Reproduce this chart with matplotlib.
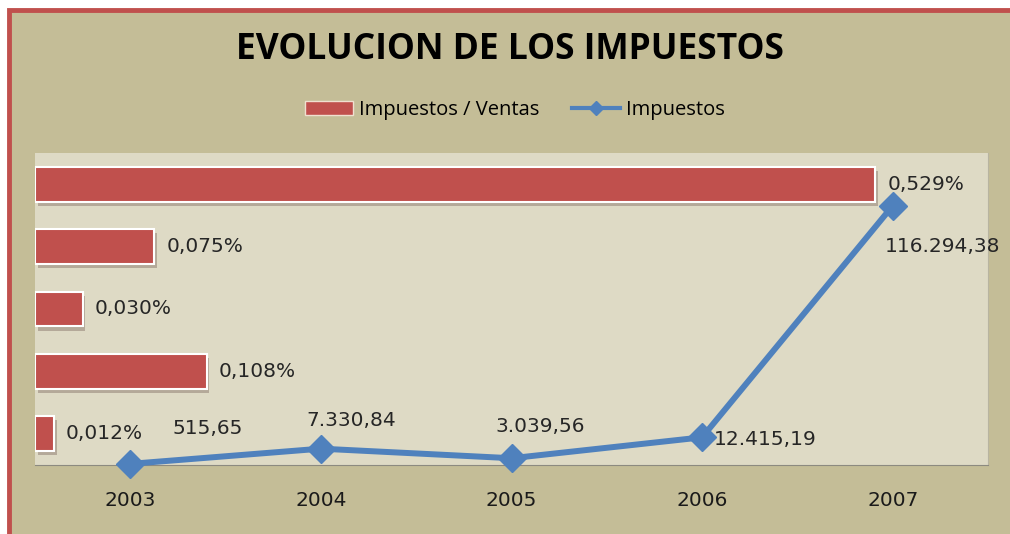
import numpy as np
import matplotlib.pyplot as plt
from matplotlib.patches import Rectangle, Patch
from matplotlib.lines import Line2D
import matplotlib.patheffects as pe

plt.rcParams['font.family'] = ['Open Sans', 'DejaVu Sans']

years = ['2003', '2004', '2005', '2006', '2007']
ratio = [0.012, 0.108, 0.030, 0.075, 0.529]          # Impuestos / Ventas (%)
impuestos = [515.65, 7330.84, 3039.56, 12415.19, 116294.38]

red = '#c0504d'
blue = '#4f81bd'
tan = '#c4bd97'
W, H = 1010, 534
lbl = dict(fontsize=14.5, color='#262626', family='DejaVu Sans')


def eur(v, dec=2):
    s = f'{v:,.{dec}f}'
    return s.replace(',', 'X').replace('.', ',').replace('X', '.')


fig = plt.figure(figsize=(W / 100, H / 100), dpi=100, facecolor='white')
# fondo del grafico con borde rojo
fig.patches.append(Rectangle((9 / W, -0.1), 1.2, 1 - 9.5 / H + 0.1,
                             transform=fig.transFigure, facecolor=tan,
                             edgecolor=red, linewidth=3.5, zorder=-5))

pos = [35 / W, (H - 465) / H, 953 / W, 312 / H]
ax = fig.add_axes(pos)
ax.set_facecolor('#dedac5')
y = np.arange(len(years))
bars = ax.barh(y, ratio, height=0.56, color=red, edgecolor='white', linewidth=1.5,
               zorder=2)
for b in bars:
    b.set_path_effects([pe.SimplePatchShadow(offset=(2, -3), alpha=0.25), pe.Normal()])
ax.set_xlim(0, 0.6)
ax.set_ylim(-0.5, len(years) - 0.5)
ax.set_xticks([])
ax.set_yticks([])
for s in ['top', 'left']:
    ax.spines[s].set_visible(False)
ax.spines['bottom'].set_color('#8c8a80')
ax.spines['right'].set_color('#b8b4a0')
for yi, r in zip(y, ratio):
    ax.annotate(eur(r, 3) + '%', (r, yi), xytext=(12, 0), textcoords='offset pixels',
                va='center', ha='left', **lbl)

ax2 = fig.add_axes(pos, frameon=False)
x = np.arange(len(years))
ax2.plot(x, impuestos, color=blue, linewidth=4.3, marker='D', markersize=14,
         clip_on=False, zorder=3)
ax2.set_xlim(-0.5, len(years) - 0.5)
ax2.set_ylim(0, 140000)
ax2.set_yticks([])
ax2.set_xticks(x)
ax2.set_xticklabels(years, fontsize=14.5, color='#1a1a1a', family='DejaVu Sans')
ax2.tick_params(axis='x', length=0, pad=19)

offs = [(77, 35, 'center'), (30, 28, 'center'), (29, 32, 'center'),
        (12, -2, 'left'), (-8, -41, 'left')]
for xi, v, (dx, dy, ha) in zip(x, impuestos, offs):
    ax2.annotate(eur(v), (xi, v), xytext=(dx, dy), textcoords='offset pixels',
                 va='center', ha=ha, **lbl)

fig.text(510 / W, 1 - 50 / H, 'EVOLUCION DE LOS IMPUESTOS', ha='center', va='center',
         fontsize=25.5, fontweight='bold', color='black')

handles = [Patch(facecolor=red, edgecolor='#f0e0d0', linewidth=1),
           Line2D([0], [0], color=blue, linewidth=3, marker='D', markersize=7)]
fig.legend(handles, ['Impuestos / Ventas', 'Impuestos'], loc='center',
           bbox_to_anchor=(515 / W, 1 - 110 / H), ncol=2, frameon=False,
           fontsize=14.5, handlelength=2.4, handletextpad=0.3, columnspacing=1.6)

fig.savefig('out.png', dpi=100, facecolor=fig.get_facecolor())
